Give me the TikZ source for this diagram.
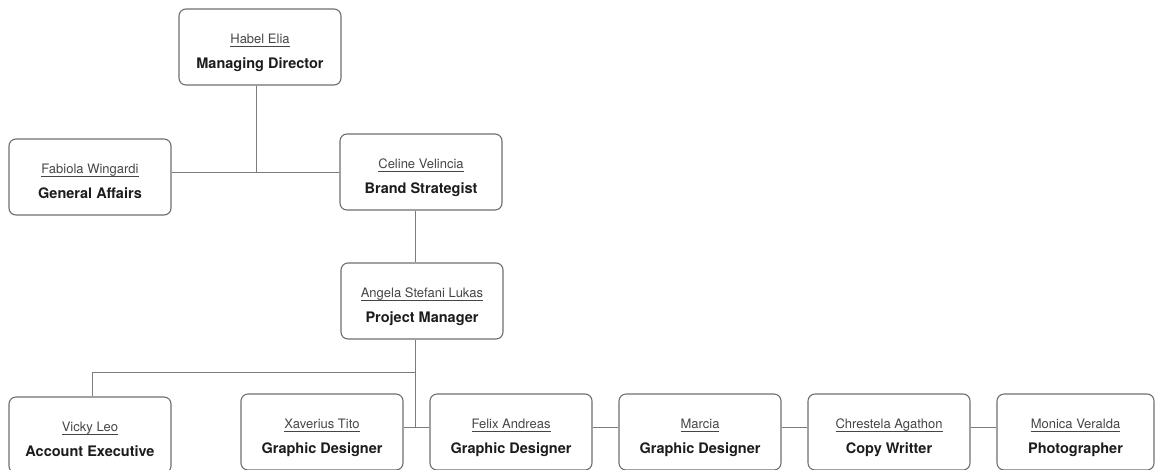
\documentclass[tikz,border=0pt]{standalone}
\usepackage{fontspec}
\setmainfont{TeX Gyre Heros}
\usetikzlibrary{positioning}
\definecolor{boxgray}{HTML}{6E6E6E}
\definecolor{linegray}{HTML}{7C7C7C}
\definecolor{namegray}{HTML}{454545}
\definecolor{titleblack}{HTML}{1C1C1C}
\newcommand{\nameul}[1]{\setbox0\hbox{#1}\rlap{\rule[-4pt]{\wd0}{0.9pt}}\box0}
\newcommand{\staff}[2]{\rule{0pt}{21pt}{\fontsize{13}{15}\selectfont\color{namegray}\nameul{#1}}\\{\rule[-4pt]{0pt}{4pt}\bfseries\color{titleblack}#2}}

\begin{document}
\begin{tikzpicture}
    [
    x=1pt, y=-1pt,
    box/.style={draw=boxgray, line width=1.1pt, rounded corners=7pt, minimum width=162pt, minimum height=76pt, inner sep=0pt, align=center, font=\fontsize{14.5}{25}\selectfont},
    link/.style={draw=linegray, line width=1pt}
    ]
    \useasboundingbox (0,0) rectangle (1155,469);
    \node (md) at (260,47) [box] {\staff{Habel Elia}{Managing Director}};
    \node (ga) at (90,177) [box] {\staff{Fabiola Wingardi}{General Affairs}};
    \node (bs) at (421,172) [box] {\staff{Celine Velincia}{Brand Strategist}};
    \node (pm) at (422,301) [box] {\staff{Angela Stefani Lukas}{Project Manager}};
    \node (ae) at (90,435) [box] {\staff{Vicky Leo}{Account Executive}};
    \node (gd1) at (322,432) [box] {\staff{Xaverius Tito}{Graphic Designer}};
    \node (gd2) at (511,432) [box] {\staff{Felix Andreas}{Graphic Designer}};
    \node (gd3) at (700,432) [box] {\staff{Marcia}{Graphic Designer}};
    \node (cw) at (889,432) [box] {\staff{Chrestela Agathon}{Copy Writter}};
    \node (ph) at (1075.5,432) [box, minimum width=157pt] {\staff{Monica Veralda}{Photographer}};

    \coordinate (mdjoin) at (256,172);
    \coordinate (spine) at (415,301);
    \coordinate (split) at (415,372);
    \coordinate (aeturn) at (92,372);
    \coordinate (rowjoin) at (415,427);
    \draw [link] (md.south -| mdjoin) to (mdjoin);
    \draw [link] (bs.west) to (bs.west -| ga.east);
    \draw [link] (bs.south -| spine) to (pm.north -| spine);
    \draw [link] (pm.south -| spine) to (rowjoin);
    \draw [link] (split) -- (aeturn) -- (ae.north -| aeturn);
    \draw [link] (gd1.east |- rowjoin) to (gd2.west |- rowjoin);
    \draw [link] (gd2.east |- rowjoin) to (gd3.west |- rowjoin);
    \draw [link] (gd3.east |- rowjoin) to (cw.west |- rowjoin);
    \draw [link] (cw.east |- rowjoin) to (ph.west |- rowjoin);
\end{tikzpicture}
\end{document}
